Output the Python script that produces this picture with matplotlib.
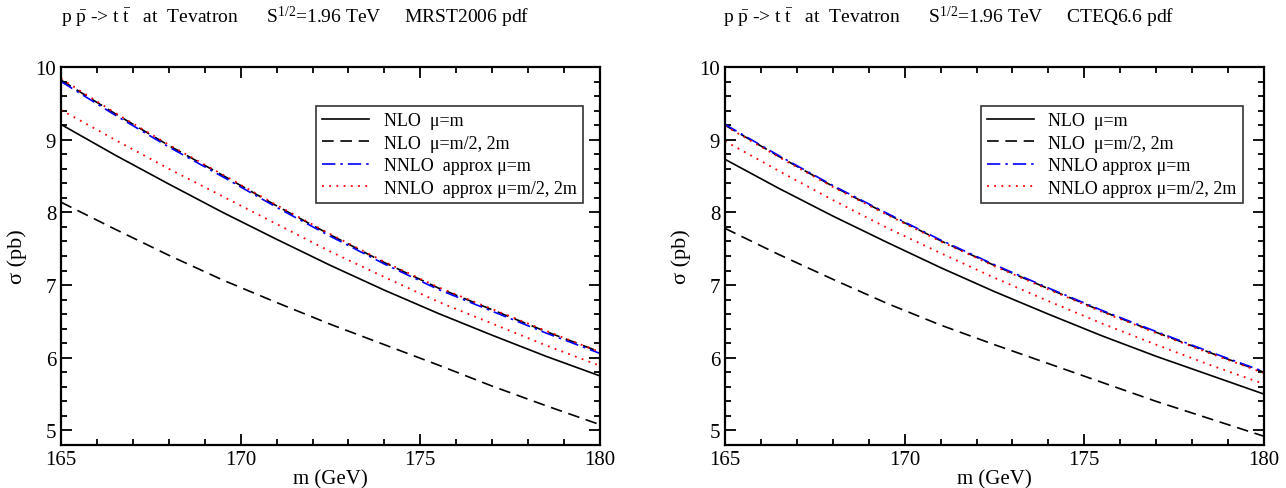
import matplotlib
matplotlib.use('Agg')
import matplotlib.pyplot as plt

plt.rcParams['font.family'] = ['Liberation Serif', 'DejaVu Serif']
plt.rcParams['mathtext.fontset'] = 'custom'
plt.rcParams['mathtext.rm'] = 'Liberation Serif'
plt.rcParams['mathtext.it'] = 'Liberation Serif'

# top mass points (GeV)
mass = [165, 166.5, 168, 169.5, 171, 172.5, 174, 175.5, 177, 178.5, 180]

# MRST2006 pdf (left panel), sigma in pb
mrst_nlo = [9.21, 8.79, 8.39, 8.00, 7.63, 7.27, 6.93, 6.61, 6.31, 6.02, 5.75]
mrst_nlo_up = [9.82, 9.36, 8.92, 8.51, 8.09, 7.69, 7.31, 6.96, 6.66, 6.36, 6.08]
mrst_nlo_lo = [8.14, 7.77, 7.41, 7.07, 6.76, 6.46, 6.18, 5.90, 5.61, 5.34, 5.08]
mrst_nnlo = [9.80, 9.34, 8.90, 8.49, 8.07, 7.67, 7.29, 6.94, 6.64, 6.34, 6.06]
mrst_nnlo_up = [9.84, 9.37, 8.93, 8.52, 8.10, 7.70, 7.32, 6.97, 6.67, 6.37, 6.08]
mrst_nnlo_lo = [9.41, 9.00, 8.60, 8.22, 7.84, 7.46, 7.11, 6.77, 6.47, 6.17, 5.89]

# CTEQ6.6 pdf (right panel)
cteq_nlo = [8.73, 8.33, 7.95, 7.59, 7.24, 6.91, 6.60, 6.30, 6.02, 5.76, 5.50]
cteq_nlo_up = [9.20, 8.77, 8.36, 7.98, 7.61, 7.27, 6.95, 6.64, 6.35, 6.07, 5.80]
cteq_nlo_lo = [7.78, 7.42, 7.08, 6.75, 6.45, 6.18, 5.92, 5.66, 5.40, 5.16, 4.92]
cteq_nnlo = [9.21, 8.78, 8.37, 7.99, 7.62, 7.28, 6.96, 6.65, 6.36, 6.08, 5.81]
cteq_nnlo_up = [9.19, 8.76, 8.35, 7.97, 7.60, 7.26, 6.94, 6.63, 6.34, 6.06, 5.79]
cteq_nnlo_lo = [8.98, 8.57, 8.17, 7.79, 7.44, 7.10, 6.78, 6.47, 6.18, 5.90, 5.64]

titles = [r'p $\bar{\rm p}$ -> t $\bar{\rm t}$   at  Tevatron      S$^{1/2}$=1.96 TeV     MRST2006 pdf',
          r'p $\bar{\rm p}$ -> t $\bar{\rm t}$   at  Tevatron      S$^{1/2}$=1.96 TeV     CTEQ6.6 pdf']
legend_nnlo = ['NNLO  approx \u03bc=m', 'NNLO approx \u03bc=m']
legend_nnlo2 = ['NNLO  approx \u03bc=m/2, 2m', 'NNLO approx \u03bc=m/2, 2m']

fig = plt.figure(figsize=(12.86, 4.89), dpi=100)
ax1 = fig.add_axes([61/1286, 1-446/489, 539/1286, 378/489])
ax2 = fig.add_axes([725/1286, 1-446/489, 539/1286, 378/489])

panels = [
    (ax1, mrst_nlo, mrst_nlo_up, mrst_nlo_lo, mrst_nnlo, mrst_nnlo_up, mrst_nnlo_lo),
    (ax2, cteq_nlo, cteq_nlo_up, cteq_nlo_lo, cteq_nnlo, cteq_nnlo_up, cteq_nnlo_lo),
]
anchors = [(0.968, 0.897), (0.961, 0.897)]

for i, (ax, nlo, nlo_up, nlo_lo, nnlo, nnlo_up, nnlo_lo) in enumerate(panels):
    l1, = ax.plot(mass, nlo, color='black', lw=1.2, ls='-')
    l2, = ax.plot(mass, nlo_up, color='black', lw=1.2, ls=(0, (7, 4)))
    ax.plot(mass, nlo_lo, color='black', lw=1.2, ls=(0, (7, 4)))
    l3, = ax.plot(mass, nnlo, color='blue', lw=1.2, ls=(0, (8, 3, 1.5, 3)))
    l4, = ax.plot(mass, nnlo_up, color='red', lw=1.3, ls=(0, (1, 3)))
    ax.plot(mass, nnlo_lo, color='red', lw=1.3, ls=(0, (1, 3)))

    ax.set_xlim(165, 180)
    ax.set_ylim(4.8, 10)
    ax.set_xticks([165, 170, 175, 180])
    ax.set_xticks(range(165, 181), minor=True)
    ax.set_yticks([5, 6, 7, 8, 9, 10])
    ax.set_yticks([4.8 + 0.2 * k for k in range(27)], minor=True)
    ax.tick_params(which='both', direction='in', top=True, right=True, width=1.3)
    ax.tick_params(which='major', length=8, labelsize=15)
    ax.tick_params(which='minor', length=4.5)
    for sp in ax.spines.values():
        sp.set_linewidth(1.6)
    ax.set_xlabel('m (GeV)', fontsize=15, labelpad=0)
    ax.set_ylabel('\u03c3 (pb)', fontsize=16, labelpad=6)

    leg = ax.legend([l1, l2, l3, l4],
                    ['NLO  \u03bc=m', 'NLO  \u03bc=m/2, 2m', legend_nnlo[i], legend_nnlo2[i]],
                    loc='upper right', bbox_to_anchor=anchors[i],
                    fontsize=13, frameon=True, fancybox=False, borderpad=0.35,
                    labelspacing=0.3, handlelength=2.6, handletextpad=0.8,
                    borderaxespad=0)
    leg.get_frame().set_edgecolor('black')
    leg.get_frame().set_linewidth(1.2)

fig.text(295/1286, 1-17/489, titles[0], ha='center', va='center', fontsize=14)
fig.text(949/1286, 1-17/489, titles[1], ha='center', va='center', fontsize=14)

fig.savefig('out.png', dpi=100)
